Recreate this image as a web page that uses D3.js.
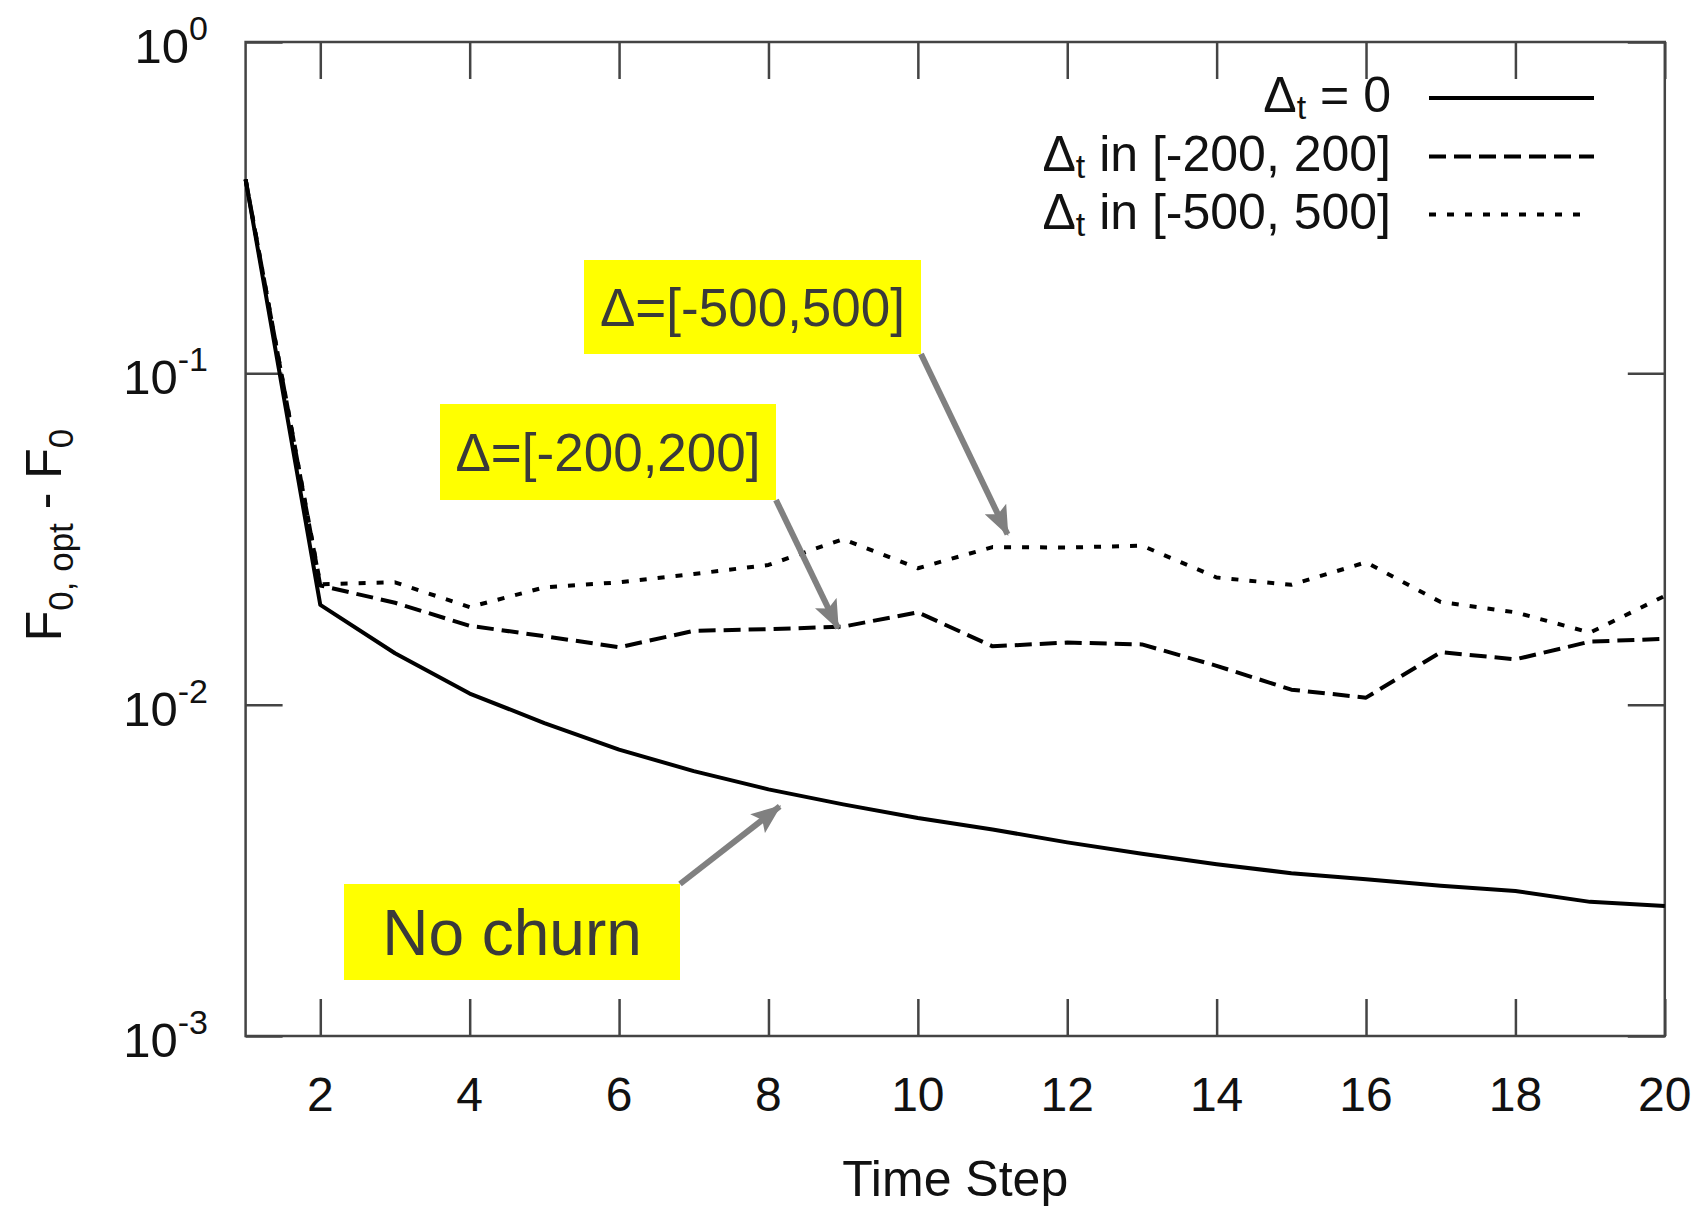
<!DOCTYPE html>
<html><head><meta charset="utf-8">
<script src="https://cdn.jsdelivr.net/npm/d3@7"></script>
<style>
body{margin:0;background:#fff}
svg{display:block;font-family:"Liberation Sans",Arial,Helvetica,sans-serif}
</style>
</head><body>
<svg id="chart" width="1704" height="1211"></svg>
<script>
// ---------------- data ----------------
const timeSteps = [1,2,3,4,5,6,7,8,9,10,11,12,13,14,15,16,17,18,19,20];
const noChurn   = [0.385,0.0200,0.0143,0.0108,0.0088,0.00732,0.0063,0.00555,0.0050,0.00455,0.0042,0.00384,0.00355,0.0033,0.0031,0.00297,0.00284,0.00274,0.00254,0.00247];
const delta200  = [0.385,0.0229,0.0203,0.0173,0.0161,0.0149,0.0167,0.0169,0.0172,0.0190,0.0150,0.0154,0.0152,0.0131,0.0111,0.0105,0.0144,0.0137,0.0155,0.0158];
const delta500  = [0.385,0.0231,0.0234,0.0197,0.0226,0.0234,0.0248,0.0264,0.0316,0.0258,0.0299,0.0298,0.0302,0.0242,0.0230,0.0269,0.0204,0.0190,0.0165,0.0213];
const xTickValues = [2,4,6,8,10,12,14,16,18,20];
const yTickValues = [1e-3,1e-2,1e-1,1];
const yTickExponents = ["-3","-2","-1","0"];
const legendTexts = [" = 0"," in [-200, 200]"," in [-500, 500]"];
const annotationTexts = ["Δ=[-500,500]","Δ=[-200,200]","No churn"];
const annotationTargets = [[11.2,0.0327],[8.93,0.0170],[8.15,0.00493]];

// ---------------- layout ----------------
const L = 245.6, R = 1664.8, T = 42, B = 1036;
const svg = d3.select("#chart");
const x = d3.scaleLinear().domain([1,20]).range([L,R]);
const y = d3.scaleLog().domain([1e-3,1]).range([B,T]);
const frameColor = "#444";
const tickLen = 37;

const series = [
  {values:noChurn,  dash:null},
  {values:delta200, dash:"17,8"},
  {values:delta500, dash:"7,11"}
];

// frame
svg.append("rect").attr("x",L).attr("y",T).attr("width",R-L).attr("height",B-T)
  .attr("fill","none").attr("stroke",frameColor).attr("stroke-width",2.5);

// axes (ticks inward, mirrored)
function styleAxis(g){
  g.select(".domain").remove();
  g.selectAll(".tick line").attr("stroke",frameColor).attr("stroke-width",2.5);
  g.selectAll(".tick text").remove();
}
svg.append("g").attr("transform",`translate(0,${B})`)
  .call(d3.axisBottom(x).tickValues(xTickValues).tickSizeInner(-tickLen).tickSizeOuter(0)).call(styleAxis);
svg.append("g").attr("transform",`translate(0,${T})`)
  .call(d3.axisTop(x).tickValues(xTickValues).tickSizeInner(-tickLen).tickSizeOuter(0)).call(styleAxis);
svg.append("g").attr("transform",`translate(${L},0)`)
  .call(d3.axisLeft(y).tickValues(yTickValues).tickSizeInner(-tickLen).tickSizeOuter(0)).call(styleAxis);
svg.append("g").attr("transform",`translate(${R},0)`)
  .call(d3.axisRight(y).tickValues(yTickValues).tickSizeInner(-tickLen).tickSizeOuter(0)).call(styleAxis);

// x tick labels
svg.append("g").selectAll("text").data(xTickValues).join("text")
  .attr("x",d=>x(d)).attr("y",1111).attr("text-anchor","middle")
  .attr("font-size",48).attr("fill","#111").text(d=>d);

// y tick labels 10^n
const yl = svg.append("g").selectAll("text").data(yTickValues).join("text")
  .attr("x",208).attr("y",d=>y(d)+21).attr("text-anchor","end")
  .attr("font-size",49).attr("fill","#111");
yl.append("tspan").text("10");
yl.append("tspan").attr("dy",-23).attr("font-size",34).text((d,i)=>yTickExponents[i]);

// axis titles
svg.append("text").attr("x",(L+R)/2).attr("y",1196).attr("text-anchor","middle")
  .attr("font-size",50).attr("fill","#111").text("Time Step");
const yt = svg.append("text").attr("transform","translate(61,535) rotate(-90)")
  .attr("text-anchor","middle").attr("font-size",50).attr("fill","#111");
yt.append("tspan").text("F");
yt.append("tspan").attr("dy",12).attr("font-size",35).text("0, opt");
yt.append("tspan").attr("dy",-12).text(" - F");
yt.append("tspan").attr("dy",12).attr("font-size",35).text("0");

// lines
const line = d3.line().x((d,i)=>x(timeSteps[i])).y(d=>y(d));
svg.append("g").selectAll("path").data(series).join("path")
  .attr("d",d=>line(d.values)).attr("fill","none").attr("stroke","#000")
  .attr("stroke-width",4).attr("stroke-linejoin","round")
  .attr("stroke-dasharray",d=>d.dash);

// legend
const legendRows = [98,156.5,214.5];
const lg = svg.append("g");
series.forEach((s,i)=>{
  lg.append("line").attr("x1",1429).attr("x2",i===2?1580:1594)
    .attr("y1",legendRows[i]).attr("y2",legendRows[i])
    .attr("stroke","#000").attr("stroke-width",4).attr("stroke-dasharray",s.dash);
  const t = lg.append("text").attr("x",1391).attr("y",legendRows[i]+14)
    .attr("text-anchor","end").attr("font-size",50).attr("fill","#111");
  t.append("tspan").text("Δ");
  t.append("tspan").attr("dy",7).attr("font-size",34).text("t");
  t.append("tspan").attr("dy",-7).text(legendTexts[i]);
});

// annotations
const defs = svg.append("defs");
defs.append("marker").attr("id","ah").attr("markerUnits","userSpaceOnUse")
  .attr("viewBox","0 0 30 24").attr("refX",28).attr("refY",12)
  .attr("markerWidth",30).attr("markerHeight",24).attr("orient","auto")
  .append("path").attr("d","M0,0 L30,12 L0,24 L6,12 Z").attr("fill","#808080");

const boxes = [
  {x0:584,y0:260,x1:921,y1:354,fs:53},
  {x0:440,y0:404,x1:776,y1:500,fs:53},
  {x0:344,y0:884,x1:680,y1:980,fs:64}
];
const arrowStarts = [[921,354],[776,500],[680,884]];
const ag = svg.append("g");
boxes.forEach((b,i)=>{
  ag.append("rect").attr("x",b.x0).attr("y",b.y0).attr("width",b.x1-b.x0).attr("height",b.y1-b.y0)
    .attr("fill","#ffff00");
  ag.append("text").attr("x",(b.x0+b.x1)/2).attr("y",(b.y0+b.y1)/2).attr("dy","0.36em")
    .attr("text-anchor","middle").attr("font-size",b.fs).attr("fill","#3a3a3a")
    .text(annotationTexts[i]);
  const tgt = annotationTargets[i];
  ag.append("line").attr("x1",arrowStarts[i][0]).attr("y1",arrowStarts[i][1])
    .attr("x2",x(tgt[0])).attr("y2",y(tgt[1]))
    .attr("stroke","#808080").attr("stroke-width",6).attr("marker-end","url(#ah)");
});
</script>
</body></html>
